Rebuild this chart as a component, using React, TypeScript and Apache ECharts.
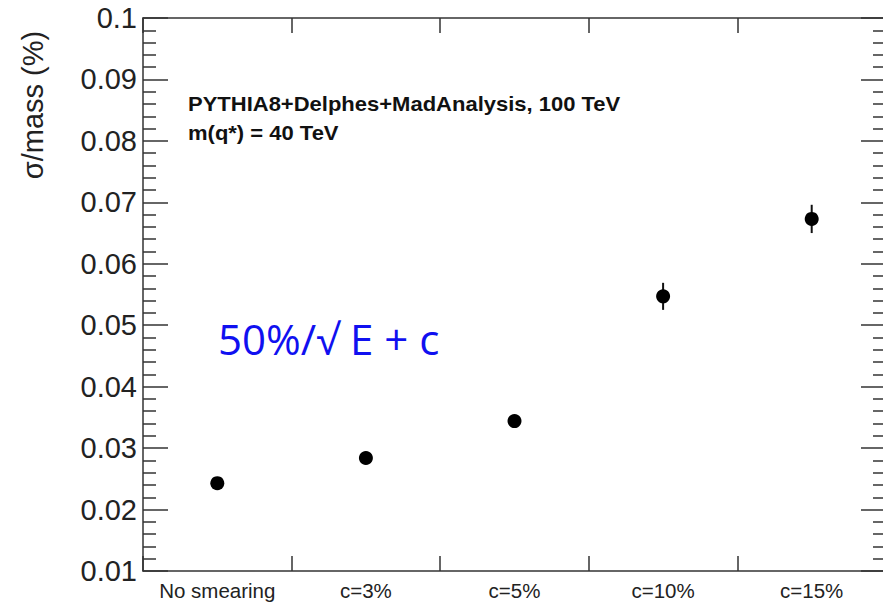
import React, { useEffect, useRef } from "react";
import * as echarts from "echarts";

const categories = ["No smearing", "c=3%", "c=5%", "c=10%", "c=15%"];
const values = [0.0243, 0.0284, 0.0344, 0.0547, 0.0673];
const errors = [0.0005, 0.0006, 0.0007, 0.0022, 0.0023];
const yTicks = { min: 0.01, max: 0.1, interval: 0.01 };
const yTitle = "σ/mass (%)";
const infoLines = ["PYTHIA8+Delphes+MadAnalysis, 100 TeV", "m(q*) = 40 TeV"];
const formula = "50%/√ E + c";

export default function App() {
  const ref = useRef<HTMLDivElement>(null);
  useEffect(() => {
    if (!ref.current) return;
    const chart = echarts.init(ref.current, undefined, { renderer: "svg" });
    const axisLine = { show: true, lineStyle: { color: "#333", width: 1.5 } };
    const font = "'Liberation Sans', Arial, sans-serif";
    const yBase = {
      type: "value",
      min: yTicks.min,
      max: yTicks.max,
      interval: yTicks.interval,
      axisLine,
      splitLine: { show: false },
      axisTick: { show: true, inside: true, length: 25, lineStyle: { color: "#333", width: 1.5 } },
      minorTick: { show: true, splitNumber: 5, length: 13, lineStyle: { color: "#333", width: 1.5 } },
    };
    chart.setOption({
      animation: false,
      backgroundColor: "#fff",
      grid: { left: 143, top: 18, height: 553, width: 743, outerBoundsMode: "none", containLabel: false },
      xAxis: [
        {
          type: "category",
          data: categories,
          boundaryGap: true,
          position: "bottom",
          axisLine,
          axisTick: { show: true, inside: true, length: 15, alignWithLabel: false, lineStyle: { color: "#333", width: 1.5 } },
          axisLabel: { fontSize: 20.5, color: "#222", fontFamily: font, margin: 9, interval: 0 },
        },
        {
          type: "category",
          data: categories,
          boundaryGap: true,
          position: "top",
          axisLine,
          axisTick: { show: true, inside: true, length: 15, lineStyle: { color: "#333", width: 1.5 } },
          axisLabel: { show: false },
        },
      ],
      yAxis: [
        {
          ...yBase,
          position: "left",
          axisLabel: {
            fontSize: 29,
            color: "#222",
            fontFamily: font,
            margin: 6,
            formatter: (v: number) => String(parseFloat(v.toFixed(3))),
          },
        },
        { ...yBase, position: "right", axisLabel: { show: false } },
      ],
      series: [
        {
          type: "custom",
          xAxisIndex: 0,
          yAxisIndex: 0,
          data: values.map((v, i) => [i, v, errors[i]]),
          renderItem: (params: any, api: any) => {
            const i = api.value(0);
            const v = api.value(1);
            const e = api.value(2);
            const p1 = api.coord([i, v - e]);
            const p2 = api.coord([i, v + e]);
            return {
              type: "line",
              shape: { x1: p1[0], y1: p1[1], x2: p2[0], y2: p2[1] },
              style: { stroke: "#111", lineWidth: 2 },
            };
          },
          z: 2,
        },
        {
          type: "scatter",
          xAxisIndex: 0,
          yAxisIndex: 0,
          data: values.map((v, i) => [i, v]),
          symbol: "circle",
          symbolSize: 14,
          itemStyle: { color: "#000", opacity: 1 },
          z: 3,
        },
      ],
      graphic: [
        {
          type: "text",
          x: 33,
          y: 105,
          rotation: Math.PI / 2,
          style: {
            text: yTitle,
            fontSize: 29,
            fill: "#222",
            fontFamily: font,
            textAlign: "center",
            textVerticalAlign: "middle",
          },
        },
        {
          type: "text",
          x: 188,
          y: 104,
          scaleX: 1.1,
          style: {
            text: infoLines[0],
            fontSize: 20,
            fontWeight: "bold",
            fill: "#111",
            fontFamily: font,
            textVerticalAlign: "middle",
          },
        },
        {
          type: "text",
          x: 188,
          y: 133,
          scaleX: 1.1,
          style: {
            text: infoLines[1],
            fontSize: 20,
            fontWeight: "bold",
            fill: "#111",
            fontFamily: font,
            textVerticalAlign: "middle",
          },
        },
        {
          type: "text",
          x: 218,
          y: 338,
          style: {
            text: formula,
            fontSize: 42,
            fill: "#1010f0",
            fontFamily: "'Open Sans', 'Noto Sans', sans-serif",
            textVerticalAlign: "middle",
          },
        },
      ],
    });
    return () => chart.dispose();
  }, []);
  return (
    <div
      ref={ref}
      style={{ position: "fixed", left: 0, top: 0, width: 883, height: 602 }}
    />
  );
}
